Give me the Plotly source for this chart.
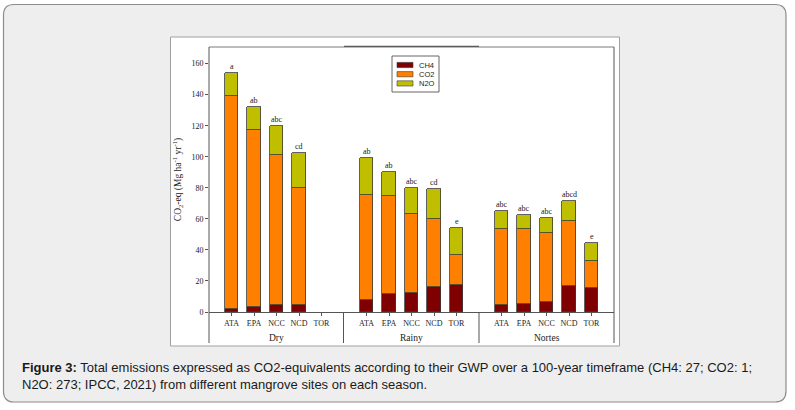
import plotly.graph_objects as go

# data
sites = ["ATA", "EPA", "NCC", "NCD", "TOR"]
seasons = ["Dry", "Rainy", "Nortes"]

ch4_dry = [2.2, 3.2, 4.3, 4.3, None]
co2_dry = [137.2, 114.3, 97.1, 75.8, None]
n2o_dry = [14.8, 14.8, 18.6, 22.6, None]

ch4_rainy = [7.7, 11.4, 12.5, 15.9, 17.2]
co2_rainy = [67.9, 63.3, 50.8, 44.2, 19.7]
n2o_rainy = [23.8, 15.7, 16.8, 19.3, 17.2]

ch4_nortes = [4.3, 5.2, 6.4, 16.7, 15.7]
co2_nortes = [48.9, 48.5, 44.5, 42.1, 16.9]
n2o_nortes = [12.1, 9.0, 9.9, 12.9, 11.8]

letters_dry = ["a", "ab", "abc", "cd", ""]
letters_rainy = ["ab", "ab", "abc", "cd", "e"]
letters_nortes = ["abc", "abc", "abc", "abcd", "e"]

gases = ["CH4", "CO2", "N2O"]
colors = ["#7f0000", "#ff8000", "#bfbf00"]

caption = ("<b>Figure 3:</b> Total emissions expressed as CO2-equivalents according to their GWP "
           "over a 100-year timeframe (CH4: 27; CO2: 1;<br>N2O: 273; IPCC, 2021) from different "
           "mangrove sites on each season.")

# body margin is removed by post_script below
W, H = 795, 410
L, T = 209, 47
R, B = W - 614, H - 312
PW, PH = W - L - R, H - T - B

def px(x):
    return (x - L) / PW

def py(y):
    return (H - B - y) / PH

ch4 = ch4_dry + ch4_rainy + ch4_nortes
co2 = co2_dry + co2_rainy + co2_nortes
n2o = n2o_dry + n2o_rainy + n2o_nortes
letters = letters_dry + letters_rainy + letters_nortes
xpos = [g * 6 + i for g in range(len(seasons)) for i in range(len(sites))]
ticktext = sites * len(seasons)

serif = "Liberation Serif"
sans = "Liberation Sans"
edge = dict(color="#3a3a3a", width=0.8)

fig = go.Figure()
for name, vals, col in zip(gases, [ch4, co2, n2o], colors):
    fig.add_trace(go.Bar(x=xpos, y=vals, name=name, marker=dict(color=col, line=edge),
                         width=0.59, showlegend=False))

for x, a, b, c, t in zip(xpos, ch4, co2, n2o, letters):
    if t:
        fig.add_annotation(x=x, y=a + b + c, text=t, showarrow=False, yanchor="bottom",
                           font=dict(family=serif, size=8, color="#222"))

for g, s in enumerate(seasons):
    fig.add_annotation(x=g * 6 + 2, y=py(338), yref="paper", yanchor="middle", text=s,
                       showarrow=False, font=dict(family=serif, size=9.5, color="#222"))

def hline(x0, x1, y, color="#555", width=1):
    return dict(type="line", xref="paper", yref="paper", x0=px(x0), x1=px(x1), y0=py(y), y1=py(y),
                line=dict(color=color, width=width))

def vline(x, y0, y1, color="#555", width=1):
    return dict(type="line", xref="paper", yref="paper", x0=px(x), x1=px(x), y0=py(y0), y1=py(y1),
                line=dict(color=color, width=width))

shapes = [
    # outer panel
    dict(type="path", xref="paper", yref="paper", layer="below",
         path=("M {a},{t} L {b},{t} Q {r},{t} {r},{t2} L {r},{bb2} Q {r},{bb} {b},{bb} "
               "L {a},{bb} Q {l},{bb} {l},{bb2} L {l},{t2} Q {l},{t} {a},{t} Z").format(
             l=px(3.5), r=px(786), a=px(14), b=px(775), t=py(4.5), t2=py(15),
             bb=py(402), bb2=py(391)),
         fillcolor="#eeeeee", line=dict(color="#8c8c8c", width=1.2)),
    # white figure image
    dict(type="rect", xref="paper", yref="paper", layer="below",
         x0=px(170.5), x1=px(619.5), y0=py(37), y1=py(346),
         fillcolor="white", line=dict(color="#a0a0a0", width=1)),
    # chart frame
    hline(209, 614, 47, "#7a7a7a"),
    hline(344, 479, 46.4, "#5a5a5a", 1.2),
    vline(209, 47, 343),
    vline(614, 47, 343),
    vline(343.5, 312, 343),
    vline(479, 312, 343),
    # legend box
    dict(type="rect", xref="paper", yref="paper", x0=px(392), x1=px(439), y0=py(56), y1=py(92),
         fillcolor="white", line=dict(color="#666", width=1)),
]

# legend entries
for i, (name, col) in enumerate(zip(gases, colors)):
    yc = 65 + i * 9.2
    shapes.append(dict(type="rect", xref="paper", yref="paper", x0=px(397), x1=px(413),
                       y0=py(yc - 2.6), y1=py(yc + 2.6), fillcolor=col,
                       line=dict(color="#3a3a3a", width=0.6)))
    fig.add_annotation(x=px(416.5), y=py(yc), xref="paper", yref="paper", xanchor="left",
                       yanchor="middle", text=name, showarrow=False,
                       font=dict(family=sans, size=7.5, color="#222"))

fig.add_annotation(x=px(20), y=py(358), xref="paper", yref="paper", xanchor="left", yanchor="top",
                   align="left", showarrow=False, text=caption,
                   font=dict(family=sans, size=13, color="#1a1a1a"))

fig.update_layout(
    width=W, height=H, margin=dict(l=L, r=R, t=T, b=B, autoexpand=False),
    barmode="stack", paper_bgcolor="white", plot_bgcolor="rgba(0,0,0,0)",
    shapes=shapes, bargap=0, showlegend=False,
)
fig.update_xaxes(range=[-1, 17], tickvals=xpos, ticktext=ticktext, ticks="outside", ticklen=3,
                 tickcolor="#555", showline=True, linecolor="#555", linewidth=1, showgrid=False,
                 zeroline=False, tickfont=dict(family=serif, size=8, color="#222"))
fig.update_yaxes(range=[0, PH / 1.5525], tickvals=list(range(0, 161, 20)), ticks="outside", ticklen=3,
                 tickcolor="#555", showline=False, showgrid=False, zeroline=False,
                 tickfont=dict(family=serif, size=8, color="#222"),
                 title=dict(text="CO<sub>2</sub>-eq (Mg ha<sup>-1</sup> yr<sup>-1</sup>)",
                            font=dict(family=serif, size=9.5, color="#222"), standoff=8))

fig.write_html("out.html", config={"displayModeBar": False},
               post_script="document.body.style.margin='0';")
